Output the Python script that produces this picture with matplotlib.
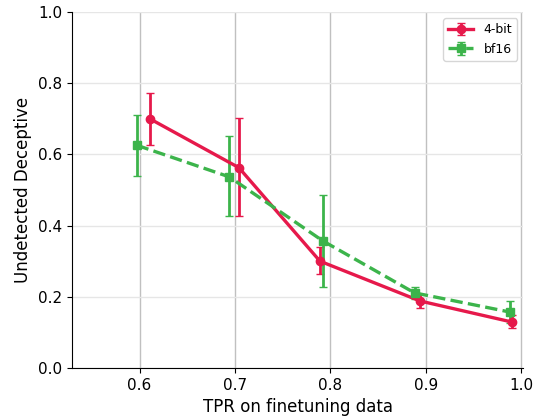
import matplotlib.pyplot as plt

# 4-bit
x_4bit = [0.611, 0.704, 0.789, 0.894, 0.990]
y_4bit = [0.700, 0.563, 0.300, 0.188, 0.129]
lo_4bit = [0.626, 0.427, 0.264, 0.169, 0.112]
hi_4bit = [0.773, 0.702, 0.340, 0.208, 0.149]

# bf16
x_bf16 = [0.597, 0.694, 0.792, 0.888, 0.988]
y_bf16 = [0.626, 0.537, 0.357, 0.211, 0.157]
lo_bf16 = [0.539, 0.427, 0.228, 0.194, 0.126]
hi_bf16 = [0.711, 0.652, 0.486, 0.228, 0.188]


def err(y, lo, hi):
    return [[a - b for a, b in zip(y, lo)], [b - a for a, b in zip(y, hi)]]


fig, ax = plt.subplots(figsize=(5.48, 4.2), dpi=100)
ax.errorbar(x_4bit, y_4bit, yerr=err(y_4bit, lo_4bit, hi_4bit), color='#e6194b',
            marker='o', ms=6, lw=2.4, capsize=3, elinewidth=2, label='4-bit')
ax.errorbar(x_bf16, y_bf16, yerr=err(y_bf16, lo_bf16, hi_bf16), color='#3cb44b',
            marker='s', ms=6, lw=2.4, ls='--', capsize=3, elinewidth=2, label='bf16')

ax.set_xlim(0.529, 1.002)
ax.set_ylim(0, 1.0)
ax.set_xticks([0.6, 0.7, 0.8, 0.9, 1.0])
ax.set_yticks([0.0, 0.2, 0.4, 0.6, 0.8, 1.0])
ax.tick_params(labelsize=11)
ax.set_xlabel('TPR on finetuning data', fontsize=12)
ax.set_ylabel('Undetected Deceptive', fontsize=12)
ax.xaxis.grid(True, color='#c0c0c0', lw=1)
ax.yaxis.grid(True, color='#e6e6e6', lw=1)
ax.set_axisbelow(True)
ax.spines['top'].set_visible(False)
ax.spines['right'].set_visible(False)
ax.legend(loc='upper right', fontsize=9)
fig.subplots_adjust(left=0.131, right=0.955, top=0.971, bottom=0.124)
plt.savefig('out.png')
